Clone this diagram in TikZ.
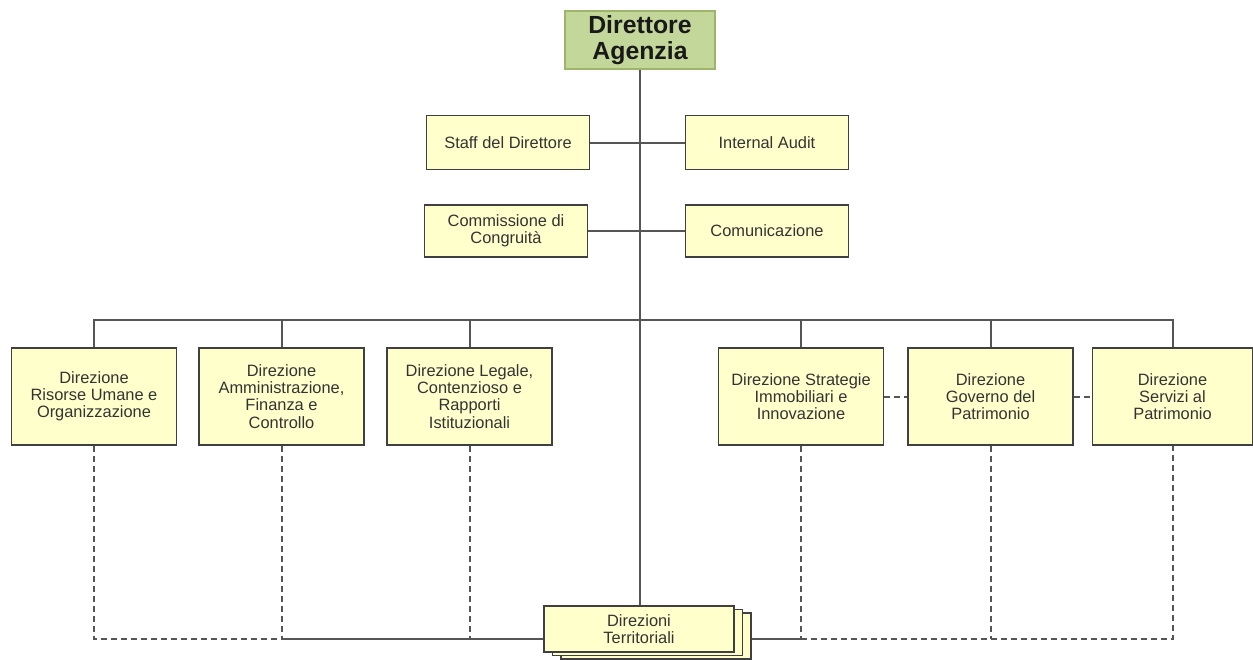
\documentclass[tikz,border=0pt]{standalone}
\usepackage{fontspec}
\setmainfont{Liberation Sans}
\usetikzlibrary{shadows}

\definecolor{boxfill}{HTML}{FFFFCC}
\definecolor{boxline}{HTML}{404040}
\definecolor{headfill}{HTML}{C4D79B}
\definecolor{headline}{HTML}{9DB46A}
\definecolor{linkgray}{HTML}{555555}

\tikzset{
	unitbox/.style={draw=boxline, fill=boxfill, line width=0.8pt, align=center, inner sep=0pt,
		text=black!80, font=\fontsize{8.2}{8.6}\selectfont},
	headbox/.style={draw=headline, fill=headfill, line width=0.8pt, align=center, inner sep=0pt,
		text=black!90, font=\fontsize{12.4}{12.8}\selectfont\bfseries},
	staffbox/.style={unitbox, minimum width=81.5pt, minimum height=27pt},
	dirbox/.style={unitbox, minimum width=82.5pt, minimum height=48.5pt},
	link/.style={draw=linkgray, line width=1pt},
	dashlink/.style={link, dash pattern=on 3pt off 2pt},
}

\begin{document}
\begin{tikzpicture}[x=0.5pt, y=-0.5pt]
		\useasboundingbox (0,0) rectangle (1253,659);
		
		% vertice
		\node[headbox, minimum width=75pt, minimum height=29pt] (dir) at (640,40) {Direttore\\Agenzia};
		
		% staff
		\node[staffbox] (staff) at (508,142.5) {Staff del Direttore};
		\node[staffbox] (audit) at (767,142.5) {Internal Audit};
		\node[staffbox, minimum height=26pt] (comm) at (506,231) {Commissione di\\Congruit\`a};
		\node[staffbox, minimum height=26pt] (comun) at (767,231) {Comunicazione};
		
		% direzioni centrali
		\node[dirbox] (risorse) at (94,396.5) {Direzione\\Risorse Umane e\\Organizzazione};
		\node[dirbox] (ammin) at (281.5,396.5) {Direzione\\Amministrazione,\\Finanza e\\Controllo};
		\node[dirbox] (legale) at (469.5,396.5) {Direzione Legale,\\Contenzioso e\\Rapporti\\Istituzionali};
		\node[dirbox] (strat) at (801,396.5) {Direzione Strategie\\Immobiliari e\\Innovazione};
		\node[dirbox] (governo) at (990.5,396.5) {Direzione\\Governo del\\Patrimonio};
		\node[dirbox, minimum width=80pt] (servizi) at (1172.5,396.5) {Direzione\\Servizi al\\Patrimonio};
		
		% direzioni territoriali
		\node[unitbox, minimum width=95pt, minimum height=23pt,
			copy shadow={shadow xshift=8.4pt, shadow yshift=-3.6pt, draw=boxline, fill=boxfill, line width=0.8pt},
			copy shadow={shadow xshift=4.2pt, shadow yshift=-1.8pt, draw=boxline, fill=boxfill, line width=0.8pt}]
			(terr) at (639,629) {Direzioni\\Territoriali};
		
		\coordinate (bus) at (640,320);
		\coordinate (low) at (640,639);
		\coordinate (terrback) at ([xshift=8.4pt]terr.east);
		
		% linee piene
		\draw[link] (dir) -- (dir |- terr.north);
		\draw[link] (staff) -- (audit);
		\draw[link] (comm) -- (comun);
		\draw[link] (risorse.north) |- (bus) -| (servizi.north);
		\draw[link] (ammin.north) -- (ammin.north |- bus);
		\draw[link] (legale.north) -- (legale.north |- bus);
		\draw[link] (strat.north) -- (strat.north |- bus);
		\draw[link] (governo.north) -- (governo.north |- bus);
		\draw[link] (ammin.south |- low) -- (terr.west |- low);
		\draw[link] (terrback |- low) -- (strat.south |- low);
		
		% linee tratteggiate
		\draw[dashlink] (risorse.south) |- (ammin.south |- low);
		\draw[dashlink] (ammin.south) -- (ammin.south |- low);
		\draw[dashlink] (legale.south) -- (legale.south |- low);
		\draw[dashlink] (strat.south) -- (strat.south |- low);
		\draw[dashlink] (governo.south) -- (governo.south |- low);
		\draw[dashlink] (strat.south |- low) -| (servizi.south);
		\draw[dashlink] (strat) -- (governo);
		\draw[dashlink] (governo) -- (servizi);
		
	\end{tikzpicture}
\end{document}
